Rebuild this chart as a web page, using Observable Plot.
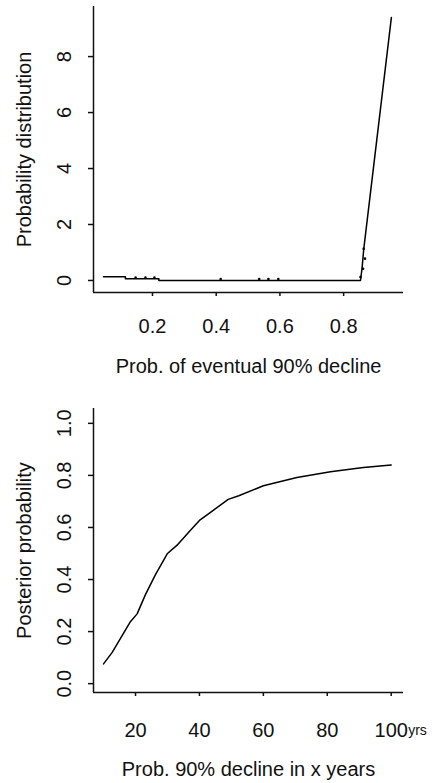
<!DOCTYPE html>
<html><head><meta charset="utf-8">
<script src="https://cdn.jsdelivr.net/npm/d3@7"></script>
<script src="https://cdn.jsdelivr.net/npm/@observablehq/plot@0.6"></script>
<style>
html,body{margin:0;padding:0;background:#fff;}
#c svg{display:block;}
</style></head><body><div id="c"></div>
<script>
// ---- Top panel: probability distribution of eventual 90% decline ----
const p1X = [0.046, 0.115, 0.115, 0.22, 0.22, 0.853, 0.858, 0.863, 0.950];
const p1Y = [0.13, 0.13, 0.06, 0.06, 0.0, 0.0, 0.45, 1.10, 9.40];
const p1DotX = [0.147, 0.178, 0.206, 0.414, 0.535, 0.564, 0.595, 0.853, 0.861, 0.867, 0.863];
const p1DotY = [0.10, 0.10, 0.10, 0.05, 0.05, 0.05, 0.05, 0.12, 0.42, 0.78, 1.13];
const p1XTicks = [0.2, 0.4, 0.6, 0.8];
const p1YTicks = [0, 2, 4, 6, 8];
const p1XDomain = [0.0148, 0.988];
const p1YDomain = [-0.43, 9.79];

// ---- Bottom panel: posterior probability of 90% decline within x years ----
const p2X = [10, 12.7, 18.4, 20.5, 23.1, 26.2, 30, 33, 36.7, 40, 44, 49, 52.3, 60, 70.5, 81, 91.3, 100];
const p2Y = [0.076, 0.12, 0.238, 0.268, 0.342, 0.418, 0.50, 0.532, 0.583, 0.627, 0.663, 0.708, 0.722, 0.760, 0.792, 0.814, 0.830, 0.840];
const p2XTicks = [20, 40, 60, 80, 100];
const p2YTicks = [0, 0.2, 0.4, 0.6, 0.8, 1.0];
const p2XDomain = [6.85, 103.85];
const p2YDomain = [-0.034, 1.057];

const font = "'Liberation Sans', Arial, Helvetica, sans-serif";
const style = {fontFamily: font, fontSize: "20px", color: "#111", background: "#fff", overflow: "visible"};

const d1 = p1X.map((x, i) => ({x, y: p1Y[i]}));
const dd1 = p1DotX.map((x, i) => ({x, y: p1DotY[i]}));
const d2 = p2X.map((x, i) => ({x, y: p2Y[i]}));

const chartTop = Plot.plot({
  width: 436, height: 390,
  marginLeft: 93, marginRight: 33, marginTop: 6, marginBottom: 98,
  style,
  x: {domain: p1XDomain},
  y: {domain: p1YDomain},
  marks: [
    Plot.axisX({ticks: p1XTicks, tickFormat: d => d.toFixed(1), tickSize: 4, tickPadding: 22, strokeWidth: 1.5,
      label: "Prob. of eventual 90% decline", labelAnchor: "center", labelArrow: "none", labelOffset: 80}),
    Plot.axisY({ticks: p1YTicks, tickFormat: d => String(d), tickSize: 5, tickPadding: 18, tickRotate: -90, strokeWidth: 1.5,
      label: "Probability distribution", labelAnchor: "center", labelArrow: "none", labelOffset: 77}),
    Plot.ruleX([p1XDomain[0]], {strokeWidth: 1.5}),
    Plot.ruleY([p1YDomain[0]], {strokeWidth: 1.5}),
    Plot.line(d1, {x: "x", y: "y", stroke: "#000", strokeWidth: 1.5}),
    Plot.dot(dd1, {x: "x", y: "y", r: 1.3, fill: "#000", stroke: "none"})
  ]
});

const chartBottom = Plot.plot({
  width: 436, height: 393,
  marginLeft: 93, marginRight: 33, marginTop: 18, marginBottom: 91,
  style,
  x: {domain: p2XDomain},
  y: {domain: p2YDomain},
  marks: [
    Plot.axisX({ticks: p2XTicks, tickFormat: d => String(d), tickSize: 4, tickPadding: 26, strokeWidth: 1.5,
      label: "Prob. 90% decline in x years", labelAnchor: "center", labelArrow: "none", labelOffset: 83}),
    Plot.axisY({ticks: p2YTicks, tickFormat: d => d.toFixed(1), tickSize: 5, tickPadding: 18, tickRotate: -90, strokeWidth: 1.5,
      label: "Posterior probability", labelAnchor: "center", labelArrow: "none", labelOffset: 77}),
    Plot.ruleX([p2XDomain[0]], {strokeWidth: 1.5}),
    Plot.ruleY([p2YDomain[0]], {strokeWidth: 1.5}),
    Plot.text([100], {x: d => d, y: () => p2YDomain[0], text: () => "yrs", dx: 17, dy: 38, textAnchor: "start", fontSize: 14}),
    Plot.line(d2, {x: "x", y: "y", stroke: "#000", strokeWidth: 1.5})
  ]
});

document.getElementById("c").append(chartTop, chartBottom);
</script>
</body></html>
